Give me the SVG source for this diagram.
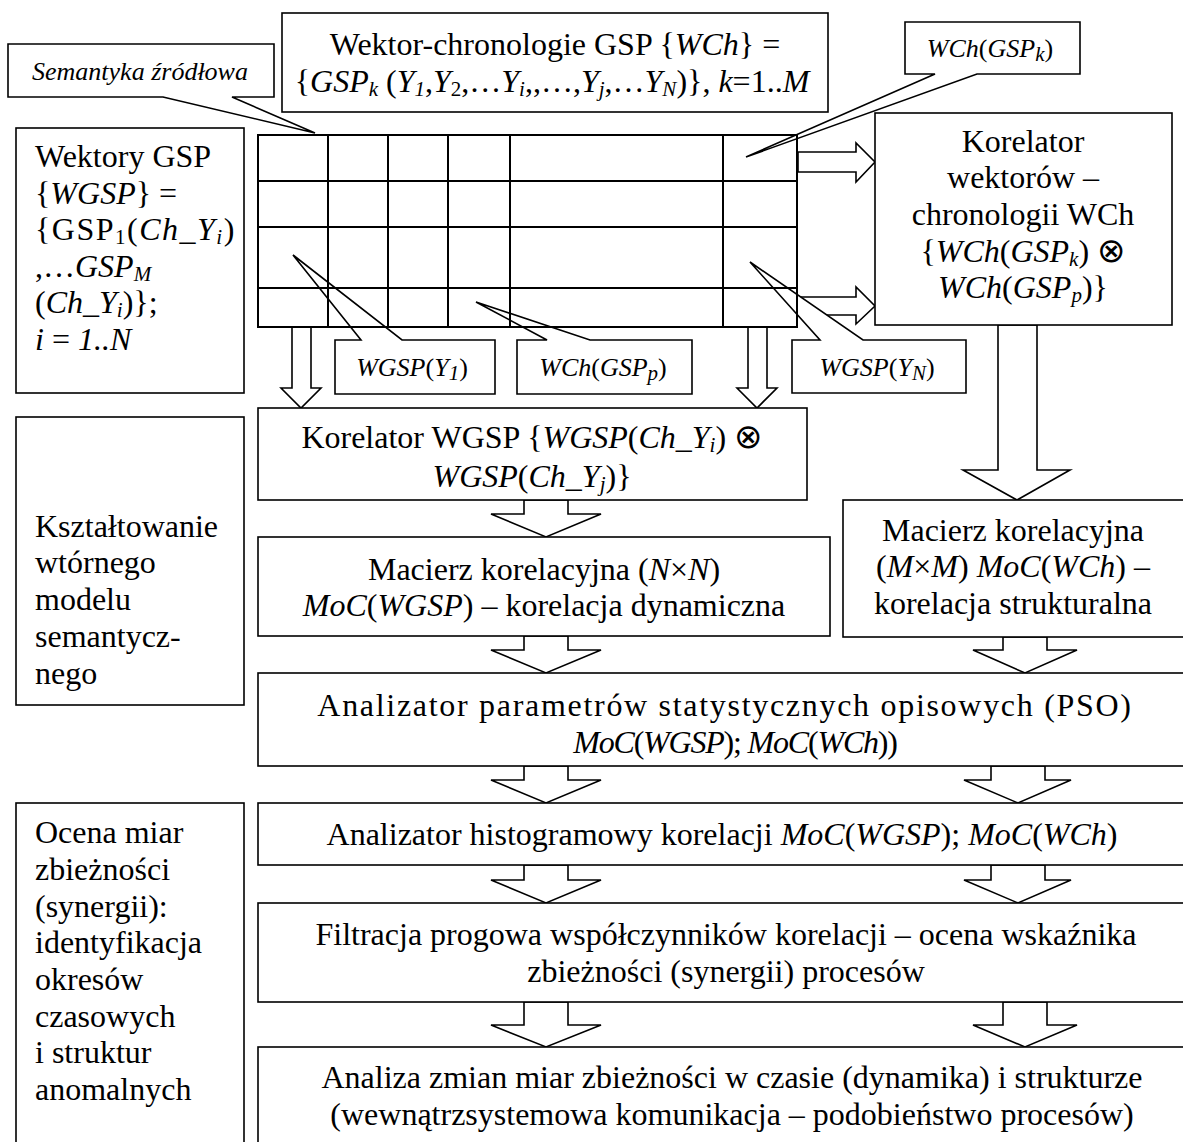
<svg xmlns="http://www.w3.org/2000/svg" width="1183" height="1142" viewBox="0 0 1183 1142" font-family="'Liberation Serif', 'DejaVu Serif', serif">
<style>
.box{fill:#fff;stroke:#000;stroke-width:1.6}
.grid line{stroke:#000;stroke-width:2}
.ar{fill:#fff;stroke:#000;stroke-width:1.6;stroke-linejoin:miter}
text{font-family:'Liberation Serif','DejaVu Serif',serif;font-size:32px;fill:#000}
text.m{text-anchor:middle}
text.c{font-size:26px;font-style:italic}
.i{font-style:italic}
.r{font-style:normal}
.s{font-size:21px}
.o{font-family:'DejaVu Sans',sans-serif;font-size:34px;font-style:normal}
</style>
<rect width="1183" height="1142" fill="#fff"/>

<g id="connectors">
<path class="ar" d="M292,327 L292,388 L281,388 L301,408 L321,388 L311,388 L311,327 Z"/>
<path class="ar" d="M748,327 L748,388 L737,388 L757,408 L777,388 L767,388 L767,327 Z"/>
<path class="ar" d="M998,325 L998,470 L963,470 L1017,500 L1070,470 L1037,470 L1037,325 Z"/>
<path class="ar" d="M524,500 L524,514 L491,514 L546,537 L601,514 L568,514 L568,500 Z"/>
<path class="ar" d="M524,636 L524,650 L491,650 L546,673 L601,650 L568,650 L568,636 Z"/>
<path class="ar" d="M1003,637 L1003,650 L973,650 L1025,673 L1077,650 L1047,650 L1047,637 Z"/>
<path class="ar" d="M524,766 L524,780 L491,780 L546,803 L601,780 L568,780 L568,766 Z"/>
<path class="ar" d="M991,766 L991,780 L964,780 L1018,803 L1071,780 L1045,780 L1045,766 Z"/>
<path class="ar" d="M524,865 L524,880 L491,880 L546,903 L601,880 L568,880 L568,865 Z"/>
<path class="ar" d="M991,865 L991,880 L964,880 L1018,903 L1071,880 L1045,880 L1045,865 Z"/>
<path class="ar" d="M524,1002 L524,1025 L491,1025 L546,1047 L601,1025 L568,1025 L568,1002 Z"/>
<path class="ar" d="M1003,1002 L1003,1025 L973,1025 L1025,1047 L1077,1025 L1047,1025 L1047,1002 Z"/>
<path class="ar" d="M798,152 L856,152 L856,143 L875,162 L856,182 L856,172 L798,172 Z"/>
<path class="ar" d="M798,297 L856,297 L856,287 L875,306 L856,324 L856,315 L798,315 Z"/>
</g>

<g id="callout-semantyka">
<path class="box" d="M8,44 L274,44 L274,97 L232,97 L315,133 L163,97 L8,97 Z"/>
<text class="c m" x="140" y="80">Semantyka źródłowa</text>
</g>

<g id="callout-wchk">
<path class="box" d="M905,22 L1080,22 L1080,74 L977,74 L746,157 L935,74 L905,74 Z"/>
<text class="c m" x="990" y="57">WCh<tspan class="r">(</tspan>GSP<tspan class="s" dy="4">k</tspan><tspan class="r" dy="-4">)</tspan></text>
</g>

<g id="callout-wgspy1">
<path class="box" d="M335,340 L361,340 L293,255 L402,340 L495,340 L495,394 L335,394 Z"/>
<text class="c m" x="412" y="376">WGSP<tspan class="r">(</tspan>Y<tspan class="s" dy="4">1</tspan><tspan class="r" dy="-4">)</tspan></text>
</g>

<g id="callout-wchp">
<path class="box" d="M517,340 L547,340 L476,302 L590,340 L692,340 L692,394 L517,394 Z"/>
<text class="c m" x="603" y="376">WCh<tspan class="r">(</tspan>GSP<tspan class="s" dy="4">p</tspan><tspan class="r" dy="-4">)</tspan></text>
</g>

<g id="callout-wgspyn">
<path class="box" d="M792,340 L820,340 L750,262 L863,340 L966,340 L966,393 L792,393 Z"/>
<text class="c m" x="877" y="376">WGSP<tspan class="r">(</tspan>Y<tspan class="s" dy="4">N</tspan><tspan class="r" dy="-4">)</tspan></text>
</g>

<g id="grid" class="grid">
<rect x="258" y="135" width="539" height="192" fill="none" stroke="#000" stroke-width="2"/>
<line x1="328" y1="135" x2="328" y2="327"/>
<line x1="388" y1="135" x2="388" y2="327"/>
<line x1="448" y1="135" x2="448" y2="327"/>
<line x1="510" y1="135" x2="510" y2="327"/>
<line x1="723" y1="135" x2="723" y2="327"/>
<line x1="258" y1="181" x2="797" y2="181"/>
<line x1="258" y1="227" x2="797" y2="227"/>
<line x1="258" y1="288" x2="797" y2="288"/>
</g>

<g id="wektor-chronologie">
<rect class="box" x="282" y="13" width="546" height="99"/>
<text class="m" x="555" y="55">Wektor-chronologie GSP {<tspan class="i">WCh</tspan>} =</text>
<text class="m" x="552" y="92">{<tspan class="i">GSP</tspan><tspan class="s i" dy="4">k</tspan><tspan dy="-4"> (</tspan><tspan class="i">Y</tspan><tspan class="s i" dy="4">1</tspan><tspan dy="-4">,</tspan><tspan class="i">Y</tspan><tspan class="s" dy="4">2</tspan><tspan dy="-4">,…</tspan><tspan class="i">Y</tspan><tspan class="s i" dy="4">i</tspan><tspan dy="-4">,,…,</tspan><tspan class="i">Y</tspan><tspan class="s i" dy="4">j</tspan><tspan dy="-4">,…</tspan><tspan class="i">Y</tspan><tspan class="s i" dy="4">N</tspan><tspan dy="-4">)}, </tspan><tspan class="i">k</tspan>=1..<tspan class="i">M</tspan></text>
</g>

<g id="wektory-gsp">
<rect class="box" x="16" y="128" width="228" height="265"/>
<text x="35" y="167">Wektory GSP</text>
<text x="35" y="204">{<tspan class="i">WGSP</tspan>} =</text>
<text x="35" y="240" letter-spacing="1.5">{GSP<tspan class="s" dy="4">1</tspan><tspan dy="-4">(</tspan><tspan class="i">Ch_Y</tspan><tspan class="s i" dy="4">i</tspan><tspan dy="-4">)</tspan></text>
<text x="35" y="277">,…<tspan class="i">GSP</tspan><tspan class="s i" dy="4">M</tspan></text>
<text x="35" y="313">(<tspan class="i">Ch_Y</tspan><tspan class="s i" dy="4">i</tspan><tspan dy="-4">)};</tspan></text>
<text x="35" y="350"><tspan class="i">i</tspan> = <tspan class="i">1..N</tspan></text>
</g>

<g id="korelator-wch">
<rect class="box" x="875" y="113" width="297" height="212"/>
<text class="m" x="1023" y="152">Korelator</text>
<text class="m" x="1023" y="188">wektorów –</text>
<text class="m" x="1023" y="225">chronologii WCh</text>
<text class="m" x="1023" y="262">{<tspan class="i">WCh</tspan>(<tspan class="i">GSP</tspan><tspan class="s i" dy="4">k</tspan><tspan dy="-4">) </tspan><tspan class="o">⊗</tspan></text>
<text class="m" x="1023" y="298"><tspan class="i">WCh</tspan>(<tspan class="i">GSP</tspan><tspan class="s i" dy="4">p</tspan><tspan dy="-4">)}</tspan></text>
</g>

<g id="korelator-wgsp">
<rect class="box" x="258" y="408" width="549" height="92"/>
<text class="m" x="532" y="448">Korelator WGSP {<tspan class="i">WGSP</tspan>(<tspan class="i">Ch_Y</tspan><tspan class="s i" dy="4">i</tspan><tspan dy="-4">) </tspan><tspan class="o">⊗</tspan></text>
<text class="m" x="532" y="487"><tspan class="i">WGSP</tspan>(<tspan class="i">Ch_Y</tspan><tspan class="s i" dy="4">j</tspan><tspan dy="-4">)}</tspan></text>
</g>

<g id="ksztaltowanie">
<rect class="box" x="16" y="417" width="228" height="288"/>
<text x="35" y="537">Kształtowanie</text>
<text x="35" y="573">wtórnego</text>
<text x="35" y="610">modelu</text>
<text x="35" y="647">semantycz-</text>
<text x="35" y="684">nego</text>
</g>

<g id="macierz-nn">
<rect class="box" x="258" y="537" width="572" height="99"/>
<text class="m" x="544" y="580">Macierz korelacyjna (<tspan class="i">N</tspan>×<tspan class="i">N</tspan>)</text>
<text class="m" x="544" y="616"><tspan class="i">MoC</tspan>(<tspan class="i">WGSP</tspan>) – korelacja dynamiczna</text>
</g>

<g id="macierz-mm">
<rect class="box" x="843" y="500" width="360" height="137"/>
<text class="m" x="1013" y="541">Macierz korelacyjna</text>
<text class="m" x="1013" y="577">(<tspan class="i">M</tspan>×<tspan class="i">M</tspan>) <tspan class="i">MoC</tspan>(<tspan class="i">WCh</tspan>) –</text>
<text class="m" x="1013" y="614">korelacja strukturalna</text>
</g>

<g id="analizator-pso">
<rect class="box" x="258" y="673" width="945" height="93"/>
<text class="m" x="725" y="716" letter-spacing="1.7">Analizator parametrów statystycznych opisowych (PSO)</text>
<text class="m" x="735" y="753" letter-spacing="-1.2"><tspan class="i">MoC</tspan>(<tspan class="i">WGSP</tspan>); <tspan class="i">MoC</tspan>(<tspan class="i">WCh</tspan>))</text>
</g>

<g id="ocena">
<rect class="box" x="16" y="803" width="228" height="360"/>
<text x="35" y="843">Ocena miar</text>
<text x="35" y="880">zbieżności</text>
<text x="35" y="917">(synergii):</text>
<text x="35" y="953">identyfikacja</text>
<text x="35" y="990">okresów</text>
<text x="35" y="1027">czasowych</text>
<text x="35" y="1063">i struktur</text>
<text x="35" y="1100">anomalnych</text>
</g>

<g id="analizator-histogram">
<rect class="box" x="258" y="803" width="945" height="62"/>
<text class="m" x="722" y="845">Analizator histogramowy korelacji <tspan class="i">MoC</tspan>(<tspan class="i">WGSP</tspan>); <tspan class="i">MoC</tspan>(<tspan class="i">WCh</tspan>)</text>
</g>

<g id="filtracja">
<rect class="box" x="258" y="903" width="945" height="99"/>
<text class="m" x="726" y="945">Filtracja progowa współczynników korelacji – ocena wskaźnika</text>
<text class="m" x="726" y="982">zbieżności (synergii) procesów</text>
</g>

<g id="analiza">
<rect class="box" x="258" y="1047" width="945" height="120"/>
<text class="m" x="732" y="1088">Analiza zmian miar zbieżności w czasie (dynamika) i strukturze</text>
<text class="m" x="732" y="1125">(wewnątrzsystemowa komunikacja – podobieństwo procesów)</text>
</g>
</svg>
